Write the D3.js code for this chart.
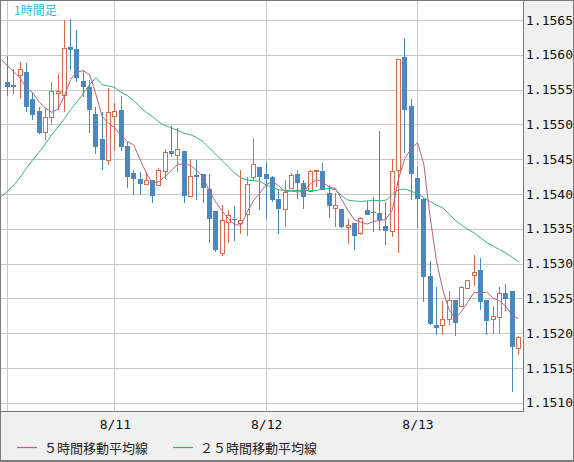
<!DOCTYPE html>
<html>
<head>
<meta charset="utf-8">
<script src="https://cdn.jsdelivr.net/npm/d3@7"></script>
<style>
html, body { margin: 0; padding: 0; background: #fff; }
svg { display: block; }
</style>
</head>
<body>
<div id="chart"></div>
<script>
// hourly candles, first one is 8/10 07:00
var opens = [1.15561, 1.15557, 1.15570, 1.15575, 1.15536, 1.15519, 1.15489, 1.15511, 1.15545, 1.15542,
             1.15611, 1.15608, 1.15562, 1.15553, 1.15515, 1.15479, 1.15448, 1.15512, 1.15520, 1.15469,
             1.15430, 1.15422, 1.15414, 1.15420, 1.15413, 1.15433, 1.15462, 1.15456, 1.15461, 1.15397,
             1.15427, 1.15429, 1.15407, 1.15375, 1.15316, 1.15359, 1.15364, 1.15357, 1.15371, 1.15424,
             1.15438, 1.15429, 1.15424, 1.15393, 1.15378, 1.15408, 1.15429, 1.15415, 1.15404, 1.15433,
             1.15433, 1.15401, 1.15379, 1.15379, 1.15353, 1.15358, 1.15345, 1.15377, 1.15374, 1.15373,
             1.15354, 1.15347, 1.15435, 1.15596, 1.15527, 1.15423, 1.15392, 1.15282, 1.15211, 1.15211,
             1.15220, 1.15248, 1.15239, 1.15266, 1.15283, 1.15291, 1.15247, 1.15219, 1.15223, 1.15257,
             1.15260, 1.15178];
var highs = [1.15598, 1.15580, 1.15590, 1.15588, 1.15545, 1.15525, 1.15523, 1.15561, 1.15572, 1.15650,
             1.15652, 1.15635, 1.15578, 1.15564, 1.15525, 1.15518, 1.15552, 1.15530, 1.15540, 1.15475,
             1.15434, 1.15431, 1.15431, 1.15420, 1.15437, 1.15464, 1.15497, 1.15494, 1.15462, 1.15450,
             1.15449, 1.15429, 1.15429, 1.15375, 1.15384, 1.15377, 1.15382, 1.15434, 1.15425, 1.15481,
             1.15438, 1.15446, 1.15426, 1.15406, 1.15420, 1.15430, 1.15434, 1.15420, 1.15434, 1.15434,
             1.15445, 1.15413, 1.15401, 1.15379, 1.15364, 1.15358, 1.15367, 1.15390, 1.15396, 1.15490,
             1.15389, 1.15450, 1.15594, 1.15624, 1.15537, 1.15439, 1.15394, 1.15304, 1.15266, 1.15246,
             1.15261, 1.15248, 1.15268, 1.15277, 1.15312, 1.15308, 1.15247, 1.15239, 1.15266, 1.15271,
             1.15260, 1.15196];
var lows = [1.15541, 1.15543, 1.15537, 1.15518, 1.15506, 1.15486, 1.15478, 1.15499, 1.15521, 1.15518,
            1.15578, 1.15561, 1.15539, 1.15488, 1.15458, 1.15435, 1.15442, 1.15461, 1.15461, 1.15409,
            1.15398, 1.15398, 1.15413, 1.15387, 1.15411, 1.15422, 1.15453, 1.15431, 1.15387, 1.15397,
            1.15391, 1.15387, 1.15329, 1.15317, 1.15311, 1.15329, 1.15333, 1.15343, 1.15339, 1.15418,
            1.15377, 1.15364, 1.15389, 1.15342, 1.15353, 1.15407, 1.15392, 1.15378, 1.15403, 1.15410,
            1.15405, 1.15366, 1.15353, 1.15351, 1.15328, 1.15319, 1.15341, 1.15369, 1.15345, 1.15346,
            1.15327, 1.15338, 1.15315, 1.15459, 1.15391, 1.15351, 1.15245, 1.15212, 1.15197, 1.15197,
            1.15212, 1.15196, 1.15238, 1.15266, 1.15268, 1.15233, 1.15197, 1.15199, 1.15199, 1.15232,
            1.15116, 1.15168];
var closes = [1.15554, 1.15554, 1.15579, 1.15525, 1.15514, 1.15488, 1.15511, 1.15548, 1.15548, 1.15609,
              1.15607, 1.15567, 1.15553, 1.15521, 1.15468, 1.15448, 1.15517, 1.15519, 1.15468, 1.15425,
              1.15422, 1.15414, 1.15420, 1.15397, 1.15435, 1.15460, 1.15458, 1.15464, 1.15397, 1.15426,
              1.15425, 1.15408, 1.15364, 1.15319, 1.15363, 1.15369, 1.15363, 1.15362, 1.15414, 1.15443,
              1.15424, 1.15421, 1.15391, 1.15378, 1.15403, 1.15427, 1.15415, 1.15395, 1.15433, 1.15434,
              1.15405, 1.15382, 1.15384, 1.15353, 1.15356, 1.15339, 1.15366, 1.15369, 1.15372, 1.15363,
              1.15347, 1.15433, 1.15594, 1.15520, 1.15429, 1.15392, 1.15280, 1.15213, 1.15208, 1.15220,
              1.15248, 1.15214, 1.15266, 1.15277, 1.15288, 1.15245, 1.15218, 1.15224, 1.15257, 1.15249,
              1.15180, 1.15194];

// last five closes before the first visible candle (only felt through the 5h average)
var prevCloses = [1.15599, 1.15599, 1.15624, 1.15595, 1.15548];

// 25h average as plotted, starting one hour before the first candle
var ma25 = [1.15396, 1.15404, 1.15413, 1.15424, 1.15437, 1.15449, 1.15460, 1.15472, 1.15485, 1.15496,
            1.15508, 1.15521, 1.15532, 1.15544, 1.15557, 1.15567, 1.15557, 1.15555, 1.15553, 1.15546,
            1.15541, 1.15534, 1.15525, 1.15517, 1.15511, 1.15503, 1.15498, 1.15495, 1.15491, 1.15487,
            1.15485, 1.15481, 1.15475, 1.15466, 1.15457, 1.15448, 1.15439, 1.15430, 1.15423, 1.15420,
            1.15419, 1.15418, 1.15413, 1.15409, 1.15406, 1.15405, 1.15405, 1.15405, 1.15405, 1.15405,
            1.15405, 1.15407, 1.15408, 1.15406, 1.15397, 1.15391, 1.15390, 1.15389, 1.15390, 1.15391,
            1.15390, 1.15391, 1.15399, 1.15406, 1.15407, 1.15404, 1.15400, 1.15395, 1.15389, 1.15384,
            1.15380, 1.15371, 1.15362, 1.15355, 1.15349, 1.15344, 1.15337, 1.15330, 1.15325, 1.15320,
            1.15315, 1.15309, 1.15303];

var priceTicks = [1.1510, 1.1515, 1.1520, 1.1525, 1.1530, 1.1535, 1.1540, 1.1545, 1.1550, 1.1555, 1.1560, 1.1565];
var dayTickIndex = [17, 41, 65];
var dayTickLabels = ["8/11", "8/12", "8/13"];
var legendLabels = ["５時間移動平均線", "２５時間移動平均線"];

function init() {
    var w = 574;
    var h = 462;
    var plotR = 523;
    var plotB = 411;

    var upColor = "#e0674a";
    var downColor = "#4a88bf";
    var ma5Color = "#b4628a";
    var ma25Color = "#34b47c";
    var gridColor = "#c8c8c8";
    var frameColor = "#7a7a7a";
    var monoFont = "'DejaVu Sans Mono', monospace";
    var jpFont = "'Noto Sans CJK JP', 'Noto Sans', sans-serif";

    var xScale = d3.scaleLinear()
                .domain([0, closes.length - 1])
                .range([7.6, 7.6 + 6.306 * (closes.length - 1)]);

    var yScale = d3.scaleLinear()
                .domain([1.1510, 1.1565])
                .range([402.7, 19.9]);

    var svg = d3.select("#chart")
                .append("svg")
                .attr("width", w)
                .attr("height", h);

    // grey outer panel, white plot
    svg.append("rect")
        .attr("x", 0).attr("y", 0)
        .attr("width", w).attr("height", h)
        .attr("fill", "#f0f0f0");

    svg.append("rect")
        .attr("x", 1).attr("y", 1)
        .attr("width", plotR - 1).attr("height", plotB - 1)
        .attr("fill", "#fff");

    svg.append("clipPath")
        .attr("id", "plotclip")
        .append("rect")
        .attr("x", 1).attr("y", 1)
        .attr("width", plotR - 1).attr("height", plotB - 1);

    var plot = svg.append("g").attr("clip-path", "url(#plotclip)");

    // grid
    plot.selectAll(".hgrid")
        .data(priceTicks)
        .enter()
        .append("line")
        .attr("class", "hgrid")
        .attr("x1", 1).attr("x2", plotR)
        .attr("y1", function(d) { return Math.round(yScale(d)) + 0.5; })
        .attr("y2", function(d) { return Math.round(yScale(d)) + 0.5; })
        .attr("stroke", gridColor)
        .attr("shape-rendering", "crispEdges");

    plot.selectAll(".vgrid")
        .data([0].concat(dayTickIndex))
        .enter()
        .append("line")
        .attr("class", "vgrid")
        .attr("y1", 1).attr("y2", plotB)
        .attr("x1", function(d) { return Math.floor(xScale(d)) + 0.5; })
        .attr("x2", function(d) { return Math.floor(xScale(d)) + 0.5; })
        .attr("stroke", gridColor)
        .attr("shape-rendering", "crispEdges");

    // candles
    var candles = plot.selectAll(".candle")
        .data(d3.range(closes.length))
        .enter()
        .append("g")
        .attr("class", "candle")
        .attr("shape-rendering", "crispEdges");

    candles.append("line")
        .attr("x1", function(i) { return Math.floor(xScale(i)) + 0.5; })
        .attr("x2", function(i) { return Math.floor(xScale(i)) + 0.5; })
        .attr("y1", function(i) { return yScale(highs[i]); })
        .attr("y2", function(i) { return yScale(lows[i]); })
        .attr("stroke", function(i) { return closes[i] >= opens[i] ? upColor : downColor; });

    candles.append("rect")
        .attr("x", function(i) {
            return closes[i] >= opens[i] ? Math.floor(xScale(i)) - 1.5 : Math.floor(xScale(i)) - 2;
        })
        .attr("y", function(i) {
            var y = yScale(Math.max(opens[i], closes[i]));
            return closes[i] >= opens[i] ? Math.round(y) + 0.5 : y;
        })
        .attr("width", function(i) { return closes[i] >= opens[i] ? 4 : 5; })
        .attr("height", function(i) {
            var hh = Math.abs(yScale(opens[i]) - yScale(closes[i]));
            return closes[i] >= opens[i] ? Math.max(1, Math.round(hh)) : Math.max(1.5, hh);
        })
        .attr("fill", function(i) { return closes[i] >= opens[i] ? "#fff" : downColor; })
        .attr("stroke", function(i) { return closes[i] >= opens[i] ? upColor : "none"; });

    // moving averages, index -1 is the hour before the first candle
    var allCloses = prevCloses.concat(closes);
    var ma5 = d3.range(-1, closes.length).map(function(i) {
        return { i: i, v: d3.mean(allCloses.slice(i + 1, i + 6)) };
    });
    var ma25pts = ma25.map(function(v, k) { return { i: k - 1, v: v }; });

    var line = d3.line()
        .x(function(d) { return xScale(d.i); })
        .y(function(d) { return yScale(d.v); });

    plot.append("path")
        .datum(ma25pts)
        .attr("d", line)
        .attr("fill", "none")
        .attr("stroke", ma25Color)
        .attr("stroke-width", 1);

    plot.append("path")
        .datum(ma5)
        .attr("d", line)
        .attr("fill", "none")
        .attr("stroke", ma5Color)
        .attr("stroke-width", 1);

    // frames
    svg.append("rect")
        .attr("x", 0.5).attr("y", 0.5)
        .attr("width", plotR).attr("height", plotB)
        .attr("fill", "none")
        .attr("stroke", frameColor)
        .attr("stroke-width", 1.5)
        .attr("shape-rendering", "crispEdges");

    svg.append("rect")
        .attr("x", 0.5).attr("y", 0.5)
        .attr("width", w - 1).attr("height", h - 1.5)
        .attr("fill", "none")
        .attr("stroke", frameColor)
        .attr("stroke-width", 1.5)
        .attr("shape-rendering", "crispEdges");

    // axes
    var yAxis = d3.axisRight(yScale)
        .tickValues(priceTicks)
        .tickFormat(d3.format(".4f"))
        .tickSize(0)
        .tickPadding(3);

    var yg = svg.append("g")
        .attr("transform", "translate(" + plotR + ",0)")
        .call(yAxis);
    yg.select(".domain").remove();
    yg.selectAll("text")
        .attr("font-family", monoFont)
        .attr("font-size", 13)
        .attr("fill", "#111");

    var xAxis = d3.axisBottom(xScale)
        .tickValues(dayTickIndex)
        .tickFormat(function(d, i) { return dayTickLabels[i]; })
        .tickSize(0)
        .tickPadding(9);

    var xg = svg.append("g")
        .attr("transform", "translate(0," + plotB + ")")
        .call(xAxis);
    xg.select(".domain").remove();
    xg.selectAll("text")
        .attr("font-family", monoFont)
        .attr("font-size", 13)
        .attr("fill", "#111");

    // title
    svg.append("text")
        .attr("x", 14)
        .attr("y", 15)
        .attr("font-family", jpFont)
        .attr("font-size", 12)
        .attr("fill", "#38b6e8")
        .text("1時間足");

    // legend
    var legend = svg.selectAll(".legend")
        .data(legendLabels)
        .enter()
        .append("g")
        .attr("class", "legend")
        .attr("transform", function(d, i) { return "translate(" + (i === 0 ? 17 : 173) + ",448)"; });

    legend.append("line")
        .attr("x1", 0).attr("x2", 20)
        .attr("y1", -0.5).attr("y2", -0.5)
        .attr("stroke", function(d, i) { return i === 0 ? ma5Color : ma25Color; })
        .attr("stroke-width", 1.2);

    legend.append("text")
        .attr("x", 27)
        .attr("y", 0)
        .attr("dy", "0.36em")
        .attr("font-family", jpFont)
        .attr("font-size", 13)
        .attr("fill", "#222")
        .text(function(d) { return d; });
}

window.onload = init;
</script>
</body>
</html>
